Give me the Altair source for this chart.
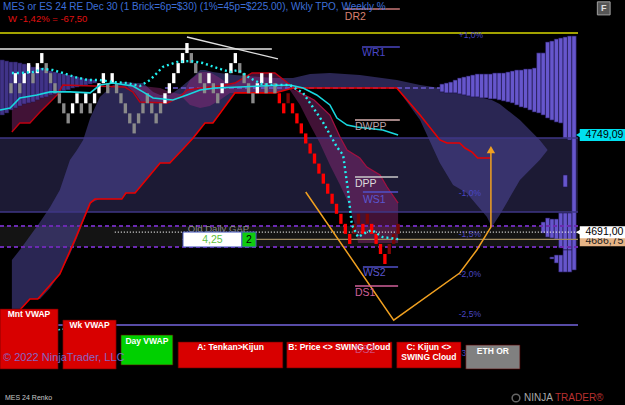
import altair as alt
import pandas as pd

X_DOMAIN = [-2.5, 128.9]
Y_DOMAIN = [4609.3, 4829.7]
FONT = "Liberation Sans"
AXIS_BLUE = "#3b6fd8"

# ---------------- Renko bricks ----------------
brick_low = [4774, 4780, 4774, 4780, 4786, 4780, 4786, 4792, 4786, 4780,
             4774, 4768, 4762, 4756, 4762, 4768, 4762, 4768, 4762, 4768,
             4774, 4780, 4774, 4780, 4774, 4768, 4762, 4756, 4750, 4756,
             4762, 4768, 4762, 4756, 4762, 4768, 4774, 4780, 4786, 4792,
             4798, 4792, 4786, 4780, 4774, 4780, 4774, 4768, 4774, 4780,
             4786, 4792, 4786, 4780, 4774, 4768, 4774, 4780, 4774, 4780,
             4774, 4768, 4762, 4768, 4762, 4756, 4750, 4744, 4738, 4732,
             4726, 4720, 4714, 4708, 4702, 4696, 4690, 4684, 4690, 4696,
             4690, 4696, 4690, 4684, 4678, 4672, 4678, 4684, 4690]
brick_kind = ("gwgwwgwwgg" "ggggwwgwgw" "wwgwgggggg" "gggggwwwww" "wggggwggww"
              "wwggggwwgw" "grrdrrrrrr" "rrrrrrrrdd" "rdrrrrddd")
BRICK_SIZE = 6

# ---------------- axes ----------------
tick_pos = [5, 12, 19, 31, 38, 53, 65, 77]
tick_text = ["30 dec", "", "3 jan", "", "4 jan", "5 jan", "20:05", "6 jan"]
price_ticks = list(range(4620, 4830, 10))

# ---------------- swing cloud (lavender) ----------------
lav_x = [0.2, 2.0, 4.3, 6.6, 8.9, 11.1, 13.4, 15.0, 16.4, 18.0, 20.2, 23.2, 25.2, 26.4, 28.2,
         30.0, 32.3, 33.9, 36.1, 38.4, 41.4, 43.0, 44.1, 45.9, 47.5, 50.9, 56.6, 60.0, 64.1, 68.0,
         72.5, 79.3, 87.7, 93.0, 97.5, 100.5, 103.6, 105.9, 108.2, 109.3, 111.1, 115.7, 120.2, 122.0]
lav_top = [4674.4, 4680.4, 4688.7, 4697.1, 4706.1, 4716.2, 4734.1, 4740.1, 4746.1, 4759.2, 4771.8,
           4778.9, 4780.7, 4780.7, 4780.1, 4780.1, 4774.8, 4773.0, 4773.0, 4777.1, 4783.7, 4787.9,
           4787.9, 4786.7, 4786.1, 4784.9, 4783.7, 4783.1, 4783.1, 4785.5, 4786.1, 4784.9, 4781.9,
           4778.9, 4777.1, 4775.9, 4774.2, 4772.4, 4770.6, 4770.0, 4767.6, 4758.0, 4746.1, 4740.1]
lav_bot = [4638.5, 4644.5, 4651.1, 4651.1, 4657.7, 4666.0, 4677.9, 4687.5, 4697.1, 4708.4, 4710.8,
           4710.8, 4710.8, 4714.4, 4714.4, 4720.4, 4727.6, 4732.3, 4732.3, 4738.9, 4747.3, 4752.6,
           4756.2, 4756.2, 4762.8, 4774.2, 4774.2, 4774.2, 4777.1, 4777.1, 4777.1, 4777.1, 4777.1,
           4758.0, 4732.3, 4719.2, 4714.4, 4707.2, 4700.1, 4694.1, 4701.3, 4722.2, 4734.1, 4740.1]

# ---------------- kumo (maroon) segments ----------------
mar_seg = [1] * 7 + [2] * 7 + [3] * 7 + [4] * 4 + [5] * 13
mar_x = [0.2, 2.0, 4.3, 6.6, 8.9, 10.5, 11.1,
         26.6, 28.2, 29.8, 33.9, 36.1, 38.4, 40.0,
         38.9, 40.7, 43.0, 45.2, 47.5, 49.8, 50.9,
         50.9, 54.8, 60.0, 64.1,
         63.4, 65.7, 68.0, 70.2, 72.5, 74.8, 76.4, 78.2, 78.9, 80.9, 83.9, 85.5, 88.0]
mar_top = [4767.0, 4770.0, 4772.4, 4773.6, 4774.8, 4774.8, 4775.4,
           4779.5, 4779.5, 4778.3, 4777.1, 4774.8, 4773.6, 4774.8,
           4773.0, 4781.9, 4786.7, 4786.7, 4783.1, 4778.9, 4780.1,
           4780.1, 4786.1, 4786.1, 4777.7,
           4777.1, 4774.2, 4771.8, 4767.0, 4761.0, 4747.9, 4740.1, 4737.1, 4736.5, 4729.9, 4725.2, 4718.0, 4708.4]
mar_bot = [4750.9, 4756.2, 4756.2, 4762.8, 4768.8, 4773.0, 4775.4,
           4777.7, 4774.2, 4768.2, 4768.2, 4768.2, 4771.8, 4774.8,
           4771.8, 4767.0, 4765.2, 4766.4, 4770.0, 4774.2, 4774.2,
           4774.2, 4774.2, 4774.2, 4777.1,
           4775.9, 4767.0, 4755.0, 4744.3, 4731.1, 4719.2, 4710.2, 4695.3, 4684.5, 4684.5, 4684.5, 4684.5, 4684.5]

# ---------------- cloud lines ----------------
ra_x = [2.0, 4.3, 6.1, 11.1, 14.5, 18.0, 19.1, 25.2, 26.1, 28.2, 33.9, 36.1, 38.9, 41.4, 44.1,
        45.9, 50.9, 60.0, 64.1, 87.7, 93.0, 97.5, 99.1, 102.0, 103.2, 104.8, 106.1, 108.9]
ra_y = [4644.5, 4651.1, 4651.1, 4666.0, 4686.3, 4708.4, 4710.8, 4710.8, 4714.4, 4714.4, 4732.3,
        4732.3, 4740.1, 4747.3, 4756.2, 4756.2, 4774.2, 4774.2, 4777.1, 4777.1, 4761.0, 4746.1,
        4744.3, 4744.3, 4741.3, 4738.9, 4735.3, 4735.3]
rb_x = [0.2, 2.0, 4.3, 6.6, 8.9, 10.5, 11.8, 25.9, 27.7, 29.3, 35.5, 38.4, 40.0, 43.0, 47.5,
        50.9, 54.8, 60.0, 64.1]
rb_y = [4750.9, 4756.2, 4756.2, 4762.8, 4768.8, 4773.0, 4778.9, 4777.7, 4774.8, 4768.8, 4768.2,
        4771.8, 4775.9, 4777.1, 4778.3, 4780.1, 4786.1, 4786.1, 4777.7]
rd_x = [64.1, 65.7, 68.9, 72.5, 74.8, 76.4, 79.3, 80.9, 83.9, 85.5, 88.0]
rd_y = [4777.1, 4774.2, 4770.0, 4761.0, 4747.9, 4740.1, 4735.3, 4729.9, 4725.2, 4718.0, 4708.4]

# ---------------- moving averages ----------------
cs_x = [-2.5, -0.2, 2.0, 5.9, 8.9, 13.4, 18.0, 20.2, 23.2, 27.7, 30.0, 32.3, 36.8, 40.0, 43.0,
        46.4, 52.0, 56.6, 63.4, 66.4, 69.5, 72.5, 74.1, 76.4, 78.6, 84.5, 88.0]
cs_y = [4764.0, 4765.2, 4771.2, 4773.0, 4774.8, 4774.8, 4774.2, 4778.9, 4780.1, 4778.3, 4774.8,
        4771.2, 4770.0, 4773.0, 4775.9, 4777.1, 4777.7, 4778.3, 4778.9, 4777.1, 4773.0, 4767.0,
        4759.2, 4755.0, 4753.8, 4752.1, 4749.1]
cd_x = [0.2, 2.0, 5.0, 7.3, 9.5, 11.8, 14.5, 17.5, 20.2, 23.2, 26.4, 29.3, 31.6, 33.2, 34.5,
        37.7, 40.7, 43.6, 46.8, 49.8, 51.6, 54.3, 57.0, 60.0, 63.4, 66.4, 68.6, 70.9, 74.1, 75.5,
        76.6, 77.5, 78.9, 80.5, 82.0, 84.5, 88.0]
cd_y = [4786.1, 4786.1, 4786.7, 4788.5, 4787.9, 4786.1, 4783.7, 4781.9, 4781.9, 4780.7, 4780.1,
        4778.3, 4781.9, 4786.1, 4789.7, 4792.7, 4793.3, 4792.1, 4789.1, 4786.7, 4787.9, 4783.1,
        4779.5, 4778.9, 4778.9, 4774.2, 4765.8, 4756.8, 4741.9, 4737.1, 4716.2, 4695.3, 4688.1,
        4690.5, 4692.3, 4688.1, 4686.9]
vw_x = [10.5, 13.4, 16.4]
vw_y = [4632.6, 4633.8, 4635.0]

# ---------------- projection path ----------------
or_x = [67.0, 87.0, 102.0, 105.9, 109.1, 109.1]
or_y = [4715.0, 4638.5, 4666.6, 4680.4, 4694.1, 4738.9]

# ---------------- TPO profiles ----------------
left_fan_start = -2.5
left_fan_top = [4793.9, 4793.3, 4792.7, 4792.7, 4792.1, 4791.5, 4790.9, 4789.7, 4789.7, 4789.1, 4788.5,
                4787.3, 4786.7, 4786.1, 4785.5, 4784.9, 4784.3, 4783.7, 4783.1, 4782.5, 4782.5, 4781.9]
left_fan_bot = [4761.0, 4762.2, 4764.0, 4765.2, 4766.4, 4767.6, 4768.2, 4768.8, 4770.0, 4771.2, 4771.8,
                4773.0, 4773.6, 4774.2, 4775.4, 4776.0, 4777.1, 4777.7, 4778.3, 4778.9, 4779.5, 4780.1]
right_fan_start = 97.5
right_fan_top = [4779.5, 4780.1, 4780.7, 4781.9, 4783.1, 4783.7, 4784.3, 4784.9, 4785.5, 4785.5, 4785.5,
                 4785.5, 4786.1, 4786.1, 4786.1, 4786.7, 4787.3, 4787.9, 4787.9, 4788.5, 4788.5, 4789.1,
                 4798.1, 4798.1, 4804.6, 4805.2, 4806.4, 4807.0, 4807.6, 4808.2, 4808.2]
right_fan_bot = [4774.8, 4774.2, 4774.2, 4774.2, 4773.6, 4773.0, 4772.4, 4771.8, 4771.8, 4771.2, 4771.2,
                 4770.6, 4770.6, 4770.0, 4769.4, 4768.8, 4768.2, 4767.0, 4765.8, 4765.2, 4764.0, 4762.8,
                 4762.2, 4761.0, 4759.2, 4758.0, 4756.8, 4756.2, 4747.3, 4746.1, 4668.4]
low_fan_col = [23, 24, 25, 26, 27, 28, 29, 25, 26, 27, 28, 29, 28]
low_fan_top = [4697.1, 4699.5, 4698.9, 4698.9, 4702.5, 4702.5, 4702.5, 4676.2, 4677.4, 4677.4, 4680.4, 4680.4, 4725.2]
low_fan_bot = [4690.5, 4688.1, 4687.5, 4686.9, 4681.6, 4680.4, 4680.4, 4675.0, 4672.6, 4667.2, 4667.2, 4667.2, 4718.0]

# ---------------- horizontal levels ----------------
band_top, band_bot = 4747.3, 4703.1
gap_top, gap_bot = 4694.7, 4682.2
last_price = 4691.00
tan_price = 4686.75
ma_price = 4749.09
yellow_level = 4810.0
white_level = 4800.4
vwap_level = 4635.6
tpo_poc = 4777.1

pivot_name = ["DR2", "WR1", "DWPP", "DPP", "WS1", "WS2", "DS1"]
pivot_price = [4824.3, 4801.6, 4758.0, 4724.0, 4715.0, 4670.2, 4658.9]
pivot_x1 = [75.9, 79.8, 78.2, 78.2, 80.0, 80.0, 78.2]
pivot_x2 = [88.4, 88.4, 88.4, 88.0, 88.0, 88.0, 88.0]
pivot_color = ["#c87878", "#4a46c0", "#d8b0b0", "#c8c8c8", "#5050c8", "#5050c8", "#d0609a"]
pivot_label = ["DR2", "WR1", "DWPP", "DPP", "WS1", "WS2", "DS1"]
pivot_label_price = [4819.6, 4798.1, 4753.8, 4719.8, 4710.2, 4666.6, 4654.7]
pivot_label_color = ["#d88070", "#4a46c8", "#b8a0a8", "#dcdcdc", "#5a56d0", "#5a56d0", "#d0609a"]

pct_text = ["+1,0%", "-1,0%", "-1,5%", "-2,0%", "-2,5%", "-3,0%"]
pct_price = [4808.8, 4714.4, 4689.9, 4666.0, 4642.1, 4618.8]

box_text = ["Mnt VWAP", "Wk VWAP", "Day VWAP", "A: Tenkan>Kijun", "B: Price <> SWING Cloud",
            "C: Kijun <>", "ETH OR"]
box_x1 = [-2.5, 11.8, 25.0, 38.0, 62.7, 87.7, 103.4]
box_x2 = [10.7, 23.9, 36.8, 61.8, 86.6, 102.3, 115.7]
box_top = [4645.1, 4638.5, 4629.6, 4625.4, 4625.4, 4625.4, 4623.6]
box_bot = [4609.3, 4609.3, 4611.7, 4609.9, 4609.9, 4609.9, 4609.3]
box_fill = ["#d80000", "#d80000", "#00d000", "#d80000", "#d80000", "#d80000", "#808080"]
box_text_price = [4642.1, 4635.6, 4626.0, 4622.4, 4622.4, 4622.4, 4620.0]

# ============================================================
xs = alt.Scale(domain=X_DOMAIN, nice=False, zero=False)
ys = alt.Scale(domain=Y_DOMAIN, nice=False, zero=False)


def ex(f="x"):
    return alt.X(f"{f}:Q", scale=xs, axis=None)


def ey(f="y"):
    return alt.Y(f"{f}:Q", scale=ys, axis=None)


def line(xv, yv, **mk):
    df = pd.DataFrame({"x": xv, "y": yv, "o": list(range(len(xv)))})
    return alt.Chart(df).mark_line(**mk).encode(x=ex(), y=ey(), order="o:Q")


def hrule(price, x1, x2, **mk):
    df = pd.DataFrame({"x1": [x1], "x2": [x2], "y": [price]})
    return alt.Chart(df).mark_rule(**mk).encode(x=ex("x1"), x2=alt.X2("x2"), y=ey("y"))


def rects(x1, x2, top, bot, **mk):
    df = pd.DataFrame({"x1": x1, "x2": x2, "t": top, "b": bot})
    return alt.Chart(df).mark_rect(**mk).encode(x=ex("x1"), x2=alt.X2("x2"), y=ey("t"), y2=alt.Y2("b"))


def texts(xv, yv, tv, colors, **mk):
    df = pd.DataFrame({"x": xv, "y": yv, "t": tv, "c": colors})
    base = dict(font=FONT, baseline="middle")
    base.update(mk)
    return alt.Chart(df).mark_text(**base).encode(
        x=ex(), y=ey(), text="t:N", color=alt.Color("c:N", scale=None))


x_label_expr = " : ".join(
    [f"datum.value == {p} ? '{t}'" for p, t in zip(tick_pos, tick_text)]) + " : ''"
y_label_expr = "datum.value > 4815 ? '' : replace(format(datum.value, '.2f'), '.', ',')"

# navy band + axes
band = alt.Chart(pd.DataFrame({"x1": [X_DOMAIN[0]], "x2": [X_DOMAIN[1]], "t": [band_top], "b": [band_bot]})
                 ).mark_rect(color="#1c1a34").encode(
    x=alt.X("x1:Q", scale=xs, axis=alt.Axis(
        values=tick_pos, labelExpr=x_label_expr, orient="bottom", grid=False, title=None,
        domainColor="#34508c", tickColor="#34508c", tickSize=5, labelColor=AXIS_BLUE,
        labelFont=FONT, labelFontSize=11, labelPadding=3, labelFlush=False, labelOverlap=False)),
    x2=alt.X2("x2"),
    y=alt.Y("t:Q", scale=ys, axis=alt.Axis(
        values=price_ticks, labelExpr=y_label_expr, orient="right", grid=False, title=None,
        domainColor="#34508c", tickColor="#34508c", tickSize=4, labelColor=AXIS_BLUE,
        labelFont=FONT, labelFontSize=10.5, labelPadding=3, labelOverlap=False, labelFlush=False)),
    y2=alt.Y2("b"))

layers = [band]
layers.append(rects([X_DOMAIN[0]], [X_DOMAIN[1]], [gap_top], [gap_bot], color="#141414"))

# lavender swing cloud
lav_df = pd.DataFrame({"x": lav_x, "t": lav_top, "b": lav_bot})
layers.append(alt.Chart(lav_df).mark_area(color="#544ca6", opacity=0.5, orient="vertical").encode(
    x=ex(), y=ey("t"), y2=alt.Y2("b")))

# maroon kumo
mar_df = pd.DataFrame({"seg": mar_seg, "x": mar_x, "t": mar_top, "b": mar_bot})
layers.append(alt.Chart(mar_df).mark_area(color="#9a2a80", opacity=0.42, orient="vertical").encode(
    x=ex(), y=ey("t"), y2=alt.Y2("b"), detail="seg:N"))

# TPO profiles
lf = pd.DataFrame({"k": list(range(len(left_fan_top))), "t": left_fan_top, "b": left_fan_bot})
lf["x1"] = left_fan_start + lf["k"]
lf["x2"] = lf["x1"] + 1
layers.append(alt.Chart(lf).mark_rect(color="#4c3ca0", opacity=0.85, stroke="#201848", strokeWidth=0.5).encode(
    x=ex("x1"), x2=alt.X2("x2"), y=ey("t"), y2=alt.Y2("b")))
rf = pd.DataFrame({"k": list(range(len(right_fan_top))), "t": right_fan_top, "b": right_fan_bot})
rf["x1"] = right_fan_start + rf["k"]
rf["x2"] = rf["x1"] + 1
layers.append(alt.Chart(rf).mark_rect(color="#6656cc", stroke="#1c1448", strokeWidth=0.6).encode(
    x=ex("x1"), x2=alt.X2("x2"), y=ey("t"), y2=alt.Y2("b")))
gf = pd.DataFrame({"k": low_fan_col, "t": low_fan_top, "b": low_fan_bot})
gf["x1"] = right_fan_start + gf["k"]
gf["x2"] = gf["x1"] + 1
layers.append(alt.Chart(gf).mark_rect(color="#6656cc", stroke="#1c1448", strokeWidth=0.6).encode(
    x=ex("x1"), x2=alt.X2("x2"), y=ey("t"), y2=alt.Y2("b")))

# horizontal reference lines
layers += [
    hrule(band_top, X_DOMAIN[0], X_DOMAIN[1], color="#3e3684", strokeWidth=1.5),
    hrule(band_bot, X_DOMAIN[0], X_DOMAIN[1], color="#3e3684", strokeWidth=1.5),
    hrule(gap_top, X_DOMAIN[0], X_DOMAIN[1], color="#6a2ab0", strokeWidth=2, strokeDash=[4, 3]),
    hrule(gap_bot, X_DOMAIN[0], X_DOMAIN[1], color="#6a2ab0", strokeWidth=2, strokeDash=[4, 3]),
    hrule(vwap_level, X_DOMAIN[0], X_DOMAIN[1], color="#7464dc", strokeWidth=1.5),
    hrule(yellow_level, X_DOMAIN[0], X_DOMAIN[1], color="#d8d800", strokeWidth=1.5),
    hrule(white_level, X_DOMAIN[0], 59.3, color="#e8e8e8", strokeWidth=1.5),
    hrule(tpo_poc, 35.0, 97.5, color="#6a5ad0", strokeWidth=1.5, strokeDash=[5, 3]),
    hrule(last_price, 23.6, X_DOMAIN[1], color="#f0f0f0", strokeWidth=1.2, strokeDash=[1, 2]),
    hrule(tan_price, 39.0, X_DOMAIN[1], color="#a08a60", strokeWidth=1.2),
]
layers.append(line([40.0, 60.7], [4807.6, 4794.5], color="#e0e0e0", strokeWidth=1.3))

# cloud lines
layers.append(line(ra_x, ra_y, color="#e80000", strokeWidth=1.6))
layers.append(line(rb_x, rb_y, color="#c00010", strokeWidth=1.4))
layers.append(line(rd_x, rd_y, color="#a01040", strokeWidth=1.3))

# renko bricks
bdf = pd.DataFrame({"i": list(range(len(brick_low))), "low": brick_low, "kind": list(brick_kind)})
layers.append(alt.Chart(bdf).transform_calculate(
    x1="datum.i - 0.38", x2="datum.i + 0.38", high=f"datum.low + {BRICK_SIZE}"
).mark_rect().encode(
    x=ex("x1"), x2=alt.X2("x2"), y=ey("low"), y2=alt.Y2("high"),
    color=alt.Color("kind:N", scale=alt.Scale(domain=["w", "g", "r", "d"],
                                              range=["#ffffff", "#8a8a8a", "#ff0000", "#7a0606"]),
                    legend=None)))

# moving averages
layers.append(line(cs_x, cs_y, color="#18d8e0", strokeWidth=1.6))
layers.append(line(cd_x, cd_y, color="#20f0f0", strokeWidth=2.4, strokeDash=[2, 3]))
layers.append(line(vw_x, vw_y, color="#20e0e0", strokeWidth=1.5, strokeDash=[3, 2]))

# projection path
layers.append(line(or_x, or_y, color="#f0a020", strokeWidth=1.5))
layers.append(alt.Chart(pd.DataFrame({"x": [or_x[-1]], "y": [or_y[-1] + 1.5]})).mark_point(
    shape="triangle-up", filled=True, size=70, color="#f0a020", opacity=1).encode(x=ex(), y=ey()))

# pivot levels
for nm, p, a, b, c in zip(pivot_name, pivot_price, pivot_x1, pivot_x2, pivot_color):
    layers.append(hrule(p, a, b, color=c, strokeWidth=1.4))
layers.append(texts(pivot_x1, pivot_label_price, pivot_label, pivot_label_color,
                    align="left", fontSize=10.5))

# weekly % labels
layers.append(texts([101.8] * len(pct_text), pct_price, pct_text, ["#4a46c4"] * len(pct_text),
                    align="left", fontSize=8.5))

# old daily gap widget
layers.append(texts([40.2], [4693.2], ["Old Daily GAP"], ["#8a8a8a"], align="left", fontSize=9.5))
layers.append(rects([39.1], [52.5], [4691.1], [4682.2], color="#ffffff", stroke="#4a5ac0", strokeWidth=1))
layers.append(rects([52.5], [55.7], [4691.1], [4682.2], color="#10cc10", stroke="#4a5ac0", strokeWidth=1))
layers.append(texts([45.8], [4686.6], ["4,25"], ["#60c040"], align="center", fontSize=10.5))
layers.append(texts([54.1], [4686.6], ["2"], ["#000000"], align="center", fontSize=10.5))

# indicator boxes
bxdf = pd.DataFrame({"x1": box_x1, "x2": box_x2, "t": box_top, "b": box_bot, "c": box_fill})
layers.append(alt.Chart(bxdf).mark_rect(stroke="#600000", strokeWidth=0.6).encode(
    x=ex("x1"), x2=alt.X2("x2"), y=ey("t"), y2=alt.Y2("b"), color=alt.Color("c:N", scale=None)))
box_cx = [(a + b) / 2 for a, b in zip(box_x1, box_x2)]
layers.append(texts(box_cx, box_text_price, box_text, ["#ffffff"] * len(box_text),
                    align="center", fontSize=8.5, fontWeight="bold"))
layers.append(texts([box_cx[5]], [4616.4], ["SWING Cloud"], ["#ffffff"],
                    align="center", fontSize=8.5, fontWeight="bold"))
layers.append(texts([78.2], [4620.6], ["DS2"], ["#d0609a"], align="left", fontSize=10.5, opacity=0.8))
layers.append(texts([-1.8], [4615.8], ["\u00a9 2022 NinjaTrader, LLC"], ["#8070d8"],
                    align="left", fontSize=11, opacity=0.9))

# header texts
layers.append(texts([-1.8], [4825.5],
                    ["MES or ES 24 RE Dec 30 (1 Brick=6p=$30) (1%=45p=$225.00), Wkly TPO, Weekly %"],
                    ["#3d6fd8"], align="left", fontSize=10))
layers.append(texts([-0.7], [4818.4], ["W -1,42% = -67,50"], ["#e01010"], align="left", fontSize=9.5))

# price tags on the axis
TAG_X1, TAG_X2, TAG_TX = 129.3, 141.0, 134.9
layers.append(rects([TAG_X1], [TAG_X2], [tan_price + 3.3], [tan_price - 4.2], color="#e6b486"))
layers.append(texts([TAG_TX], [tan_price - 1.2], ["4686,75"], ["#202020"], align="center", fontSize=10.5))
for price, fill in [(last_price, "#ffffff"), (ma_price, "#00e0f0")]:
    layers.append(rects([TAG_X1], [TAG_X2], [price + 3.6], [price - 3.6], color=fill))
    layers.append(alt.Chart(pd.DataFrame({"x": [TAG_X1 - 0.2], "y": [price]})).mark_point(
        shape="triangle-left", filled=True, size=45, color=fill, opacity=1).encode(x=ex(), y=ey()))
layers.append(texts([TAG_TX, TAG_TX], [last_price, ma_price], ["4691,00", "4749,09"],
                    ["#000000", "#000000"], align="center", fontSize=10.5))

# "F" button and footer
layers.append(rects([133.3], [136.2], [4828.6], [4820.8], color="#555555", stroke="#a0a0a0", strokeWidth=1))
layers.append(texts([134.75], [4824.7], ["F"], ["#e0e0e0"], align="center", fontSize=9, fontWeight="bold"))
foot = pd.DataFrame({"t": ["MES 24 Renko"]})
layers.append(alt.Chart(foot).mark_text(font=FONT, fontSize=7, color="#c8c8c8", align="left",
                                        baseline="middle").encode(text="t:N", x=alt.value(5), y=alt.value(398)))
logo = pd.DataFrame({"t": ["NINJA", "TRADER\u00ae"], "px": [524, 555], "c": ["#a8a8a8", "#b83030"]})
layers.append(alt.Chart(logo).mark_text(font=FONT, fontSize=10, align="left", baseline="middle").encode(
    text="t:N", x=alt.X("px:Q", scale=None), y=alt.value(398), color=alt.Color("c:N", scale=None)))
layers.append(alt.Chart(pd.DataFrame({"t": ["o"]})).mark_point(
    shape="circle", size=60, color="#909090", strokeWidth=1.5).encode(x=alt.value(516), y=alt.value(398)))

chart = alt.layer(*layers).properties(
    width=578, height=369,
    padding={"left": 0, "top": 0, "right": 47, "bottom": 36},
    autosize=alt.AutoSizeParams(type="none"),
    background="#000000",
).configure_view(strokeWidth=0)

chart.save("out.html", embed_options={"renderer": "svg", "actions": False})
